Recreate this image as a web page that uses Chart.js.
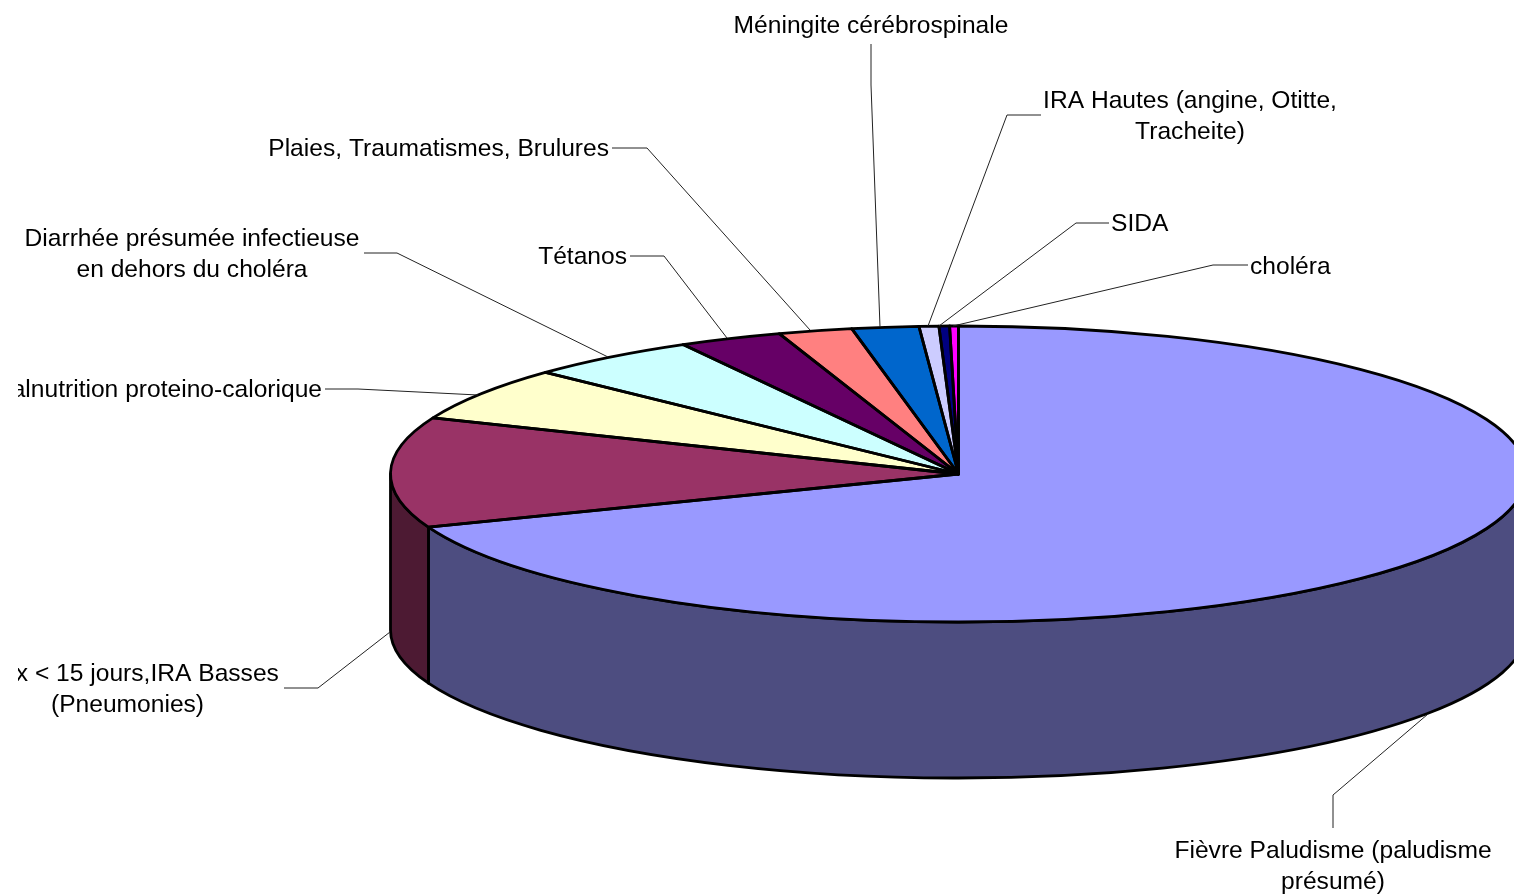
<!DOCTYPE html>
<html><head><meta charset="utf-8">
<style>html,body{margin:0;padding:0;background:#fff;overflow:hidden}canvas{display:block}</style>
<script src="https://cdn.jsdelivr.net/npm/chart.js@4/dist/chart.umd.min.js"></script>
</head><body><canvas id="c" width="1514" height="895"></canvas>
<script>
const categories = [
  "Fièvre Paludisme (paludisme\nprésumé)",
  "Toux < 15 jours,IRA Basses\n(Pneumonies)",
  "Malnutrition proteino-calorique",
  "Diarrhée présumée infectieuse\nen dehors du choléra",
  "Tétanos",
  "Plaies, Traumatismes, Brulures",
  "Méningite cérébrospinale",
  "IRA Hautes (angine, Otitte,\nTracheite)",
  "SIDA",
  "choléra"
];
const values = [69.15, 12.04, 5.85, 4.9, 2.95, 2.1, 1.9, 0.56, 0.3, 0.25];
const topColors = ["#9999ff","#993366","#ffffcc","#ccffff","#660066","#ff8080","#0066cc","#ccccff","#000080","#ff00ff"];
const wallColors = ["#4d4d80","#4d1a33","#80806a","#6a8080","#330033","#804040","#003366","#66667f","#000040","#800080"];

// layout of the flattened 3D pie
const CX = 958.5, CY = 474, RX = 568, RY = 148, DEPTH = 156;
const FONT = '24.6px "Liberation Sans", Arial, sans-serif';
const LINE_H = 31, CLIP_LEFT = 18;
// label anchor [x, y of first line, align]
const labelAnchors = [
  [1333,851,"center"],[127.5,674,"center"],[322,390,"right"],[192,239,"center"],[627,257,"right"],
  [609,149,"right"],[871,26,"center"],[1190,101,"center"],[1111,224,"left"],[1250,267,"left"]
];
const leaders = [
  [[1333,828],[1333,795],[1428,714]],
  [[284,688],[318,688],[390,632]],
  [[325,389],[358,389],[478,395]],
  [[364,253],[397,253],[608,357]],
  [[630,256],[664,256],[727,338]],
  [[612,148],[647,148],[810,330]],
  [[871,44],[871,85],[880,327]],
  [[1041,115],[1007,115],[928,326]],
  [[1109,223],[1076,223],[939,326]],
  [[1248,265],[1213,265],[953,326]]
];

const TAU = Math.PI*2;
const flatPie = {
  id:"flatPie",
  beforeDatasetsDraw(chart){
    const ctx = chart.ctx, arcs = chart.getDatasetMeta(0).data;
    // side walls: only the front half (canvas angles 0..PI) shows
    ctx.save();
    ctx.lineWidth = 2.8; ctx.strokeStyle = "#000"; ctx.lineJoin = "round";
    arcs.forEach((el,i)=>{
      let a = el.startAngle, b = el.endAngle;
      if (a < 0 && b > 0) a = 0;
      else if (a < 0) { a += TAU; b += TAU; }
      a = Math.max(a,0); b = Math.min(b,Math.PI);
      if (b <= a) return;
      ctx.beginPath();
      ctx.ellipse(CX,CY,RX,RY,0,a,b);
      ctx.ellipse(CX,CY+DEPTH,RX,RY,0,b,a,true);
      ctx.closePath();
      ctx.fillStyle = wallColors[i];
      ctx.fill(); ctx.stroke();
    });
    ctx.restore();
    // flatten the library's circular slices into the ellipse
    const e = arcs[0], R = e.outerRadius;
    ctx.save();
    ctx.translate(CX,CY); ctx.scale(RX/R,RY/R); ctx.translate(-e.x,-e.y);
  },
  afterDatasetsDraw(chart){
    const ctx = chart.ctx, arcs = chart.getDatasetMeta(0).data;
    ctx.restore();
    ctx.save();
    ctx.lineWidth = 2.8; ctx.strokeStyle = "#000"; ctx.lineJoin = "round";
    arcs.forEach(el=>{
      ctx.beginPath();
      ctx.moveTo(CX,CY);
      ctx.ellipse(CX,CY,RX,RY,0,el.startAngle,el.endAngle);
      ctx.closePath();
      ctx.stroke();
    });
    // leaders
    ctx.lineWidth = 1; ctx.strokeStyle = "#222";
    leaders.forEach(p=>{
      ctx.beginPath();
      p.forEach(([x,y],k)=> k ? ctx.lineTo(x,y) : ctx.moveTo(x,y));
      ctx.stroke();
    });
    // labels, cut at the left edge of the plot frame as in the source
    ctx.beginPath(); ctx.rect(CLIP_LEFT,0,1514-CLIP_LEFT,895); ctx.clip();
    ctx.font = FONT; ctx.fillStyle = "#000"; ctx.textBaseline = "middle";
    chart.data.labels.forEach((t,i)=>{
      const [x,y,al] = labelAnchors[i];
      ctx.textAlign = al;
      t.split("\n").forEach((line,k)=>ctx.fillText(line,x,y+k*LINE_H));
    });
    ctx.restore();
  }
};

new Chart(document.getElementById("c"),{
  type:"pie",
  data:{labels:categories,datasets:[{data:values,backgroundColor:topColors,borderWidth:0,clip:false}]},
  options:{
    responsive:false,animation:false,
    layout:{padding:0},
    events:[],
    plugins:{legend:{display:false},tooltip:{enabled:false},title:{display:false}}
  },
  plugins:[flatPie]
});
</script></body></html>
